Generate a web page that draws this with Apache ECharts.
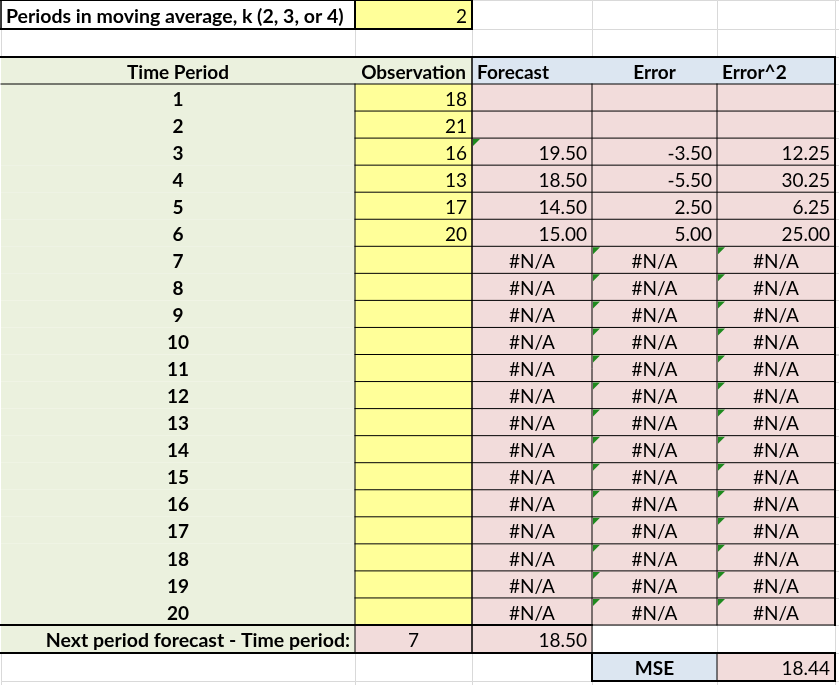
<!DOCTYPE html>
<html><head><meta charset="utf-8">
<script src="https://cdn.jsdelivr.net/npm/echarts@6/dist/echarts.min.js"></script>
<style>html,body{margin:0;padding:0;background:#fff}#c{width:839px;height:685px}</style>
</head><body><div id="c"></div><script>
// ---------- data read from the sheet ----------
const NA = '#N/A';
const kLabel = 'Periods in moving average, k (2, 3, or 4)';
const kValue = 2;
const headers = ['Time Period', 'Observation', 'Forecast', 'Error', 'Error^2'];
const periods = [1,2,3,4,5,6,7,8,9,10,11,12,13,14,15,16,17,18,19,20];
const observations = [18,21,16,13,17,20,null,null,null,null,null,null,null,null,null,null,null,null,null,null];
const forecasts = [null,null,19.50,18.50,14.50,15.00,NA,NA,NA,NA,NA,NA,NA,NA,NA,NA,NA,NA,NA,NA];
const errors    = [null,null,-3.50,-5.50,2.50,5.00,NA,NA,NA,NA,NA,NA,NA,NA,NA,NA,NA,NA,NA,NA];
const errorsSq  = [null,null,12.25,30.25,6.25,25.00,NA,NA,NA,NA,NA,NA,NA,NA,NA,NA,NA,NA,NA,NA];
const nextLabel = 'Next period forecast - Time period:';
const nextPeriod = 7;
const nextForecast = 18.50;
const mseLabel = 'MSE';
const mseValue = 18.44;

// ---------- layout (sheet geometry in axis units) ----------
const COL_EDGES = [1, 355, 472, 592, 717, 835, 845];
const ROW_EDGES = [0, 29, 57, 84];
for (let i = 1; i <= 20; i++) ROW_EDGES.push(84 + i * 27.05);
ROW_EDGES.push(653, 681, 700);

const GREEN = '#EBF1DE', YELLOW = '#FFFF99', PINK = '#F2DCDB', BLUE = '#DCE6F1';
const FONT = 'Lato, "Open Sans", sans-serif';
const FS = 19;
const FS_LABEL = 19.5;

function fmt(v) {
  if (v === null || v === undefined) return '';
  if (v === NA) return NA;
  return v.toFixed(2);
}
function numCell(v, fill) {
  return { text: fmt(v), align: v === NA ? 'center' : 'right', fill };
}

// build the cell grid
const cells = [];
function put(c, r, spec) { cells.push(Object.assign({ c0: c, r0: r, c1: c + 1, r1: r + 1 }, spec || {})); }
const nRows = ROW_EDGES.length - 1;
const nCols = COL_EDGES.length - 1;
const grid = [];
for (let r = 0; r < nRows; r++) { grid.push([]); for (let c = 0; c < nCols; c++) grid[r].push({}); }

grid[0][0] = { text: kLabel, align: 'left', bold: true, fs: FS_LABEL };
grid[0][1] = { text: String(kValue), align: 'right', fill: YELLOW };
grid[2][0] = { text: headers[0], align: 'center', bold: true, fill: GREEN };
grid[2][1] = { text: headers[1], align: 'center', bold: true, fill: GREEN };
grid[2][2] = { text: headers[2], align: 'left', bold: true, fill: BLUE };
grid[2][3] = { text: headers[3], align: 'center', bold: true, fill: BLUE };
grid[2][4] = { text: headers[4], align: 'left', bold: true, fill: BLUE };
periods.forEach((p, i) => {
  const r = 3 + i;
  grid[r][0] = { text: String(p), align: 'center', bold: true, fill: GREEN };
  grid[r][1] = { text: observations[i] === null ? '' : String(observations[i]), align: 'right', fill: YELLOW };
  grid[r][2] = numCell(forecasts[i], PINK);
  grid[r][3] = numCell(errors[i], PINK);
  grid[r][4] = numCell(errorsSq[i], PINK);
});
grid[23][0] = { text: nextLabel, align: 'right', bold: true, fill: GREEN, fs: FS_LABEL };
grid[23][1] = { text: String(nextPeriod), align: 'center', fill: PINK };
grid[23][2] = numCell(nextForecast, PINK);
grid[24][3] = { text: mseLabel, align: 'center', bold: true, fill: BLUE };
grid[24][4] = numCell(mseValue, PINK);
for (let r = 0; r < nRows; r++) for (let c = 0; c < nCols; c++) put(c, r, grid[r][c]);

// black borders: [col0,row0,col1,row1,width]
const borders = [];
function seg(c0, r0, c1, r1, w) { borders.push([c0, r0, c1, r1, w]); }
seg(0,0,2,0,2); seg(0,1,2,1,2); seg(0,0,0,1,1.5); seg(1,0,1,1,2); seg(2,0,2,1,2);
seg(0,2,5,2,2); seg(0,3,5,3,1);
for (let r = 4; r < 23; r++) seg(1, r, 5, r, 1);
seg(1,3,1,23,1); seg(3,3,3,24,1); seg(4,3,4,23,1);
seg(2,2,2,24,1.5); seg(5,2,5,23,2);
seg(3,23,5,23,1);
seg(0,23,3,23,2);
seg(1,23,1,24,1);
seg(0,24,5,24,2);
seg(3,25,5,25,2); seg(3,24,3,25,2); seg(5,24,5,25,2); seg(4,24,4,25,1);

// error-indicator triangles (top-left of cells): [col,row]
const flags = [[2, 5]];
for (let r = 9; r <= 22; r++) { flags.push([3, r]); flags.push([4, r]); }

function cellRect(api, c0, r0, c1, r1) {
  const a = api.coord([COL_EDGES[c0], ROW_EDGES[r0]]);
  const b = api.coord([COL_EDGES[c1], ROW_EDGES[r1]]);
  return { x: a[0], y: a[1], w: b[0] - a[0], h: b[1] - a[1] };
}

const chart = echarts.init(document.getElementById('c'), null, { renderer: 'canvas' });
chart.setOption({
  animation: false,
  grid: { left: 0, right: 0, top: 0, bottom: 0 },
  xAxis: { type: 'value', min: 0, max: 839, show: false },
  yAxis: { type: 'value', min: 0, max: 685, inverse: true, show: false },
  series: [
    {
      type: 'custom', clip: false, silent: true,
      data: cells.map(c => [c.c0, c.r0, c.c1, c.r1]),
      renderItem: function (params, api) {
        const cell = cells[params.dataIndex];
        const R = cellRect(api, api.value(0), api.value(1), api.value(2), api.value(3));
        const children = [];
        if (cell.fill) {
          children.push({ type: 'rect', shape: { x: R.x, y: R.y, width: R.w, height: R.h }, style: { fill: cell.fill } });
        } else {
          children.push({ type: 'rect', shape: { x: Math.round(R.x) + 0.5, y: Math.round(R.y) + 0.5, width: Math.round(R.w), height: Math.round(R.h) },
            style: { fill: '#fff', stroke: '#D9D9D9', lineWidth: 1 } });
        }
        if (cell.text) {
          let tx = R.x + R.w / 2;
          if (cell.align === 'left') tx = R.x + 5;
          if (cell.align === 'right') tx = R.x + R.w - 5;
          children.push({ type: 'text', style: {
            text: cell.text, x: tx, y: R.y + R.h / 2 + 2,
            align: cell.align, verticalAlign: 'middle',
            fill: '#000', fontFamily: FONT, fontSize: cell.fs || FS, fontWeight: cell.bold ? 'bold' : 'normal'
          } });
        }
        return { type: 'group', children };
      }
    },
    {
      type: 'custom', clip: false, silent: true,
      data: borders,
      renderItem: function (params, api) {
        const a = api.coord([COL_EDGES[api.value(0)], ROW_EDGES[api.value(1)]]);
        const b = api.coord([COL_EDGES[api.value(2)], ROW_EDGES[api.value(3)]]);
        const w = api.value(4);
        return { type: 'line', shape: { x1: a[0], y1: a[1], x2: b[0], y2: b[1] },
          style: { stroke: '#000', lineWidth: w, lineCap: 'square' } };
      }
    },
    {
      type: 'custom', clip: false, silent: true,
      data: flags,
      renderItem: function (params, api) {
        const p = api.coord([COL_EDGES[api.value(0)], ROW_EDGES[api.value(1)]]);
        const x = p[0] + 1, y = p[1] + 1;
        return { type: 'polygon', shape: { points: [[x, y], [x + 7, y], [x, y + 7]] }, style: { fill: '#1E8A1E' } };
      }
    }
  ]
});
</script></body></html>
